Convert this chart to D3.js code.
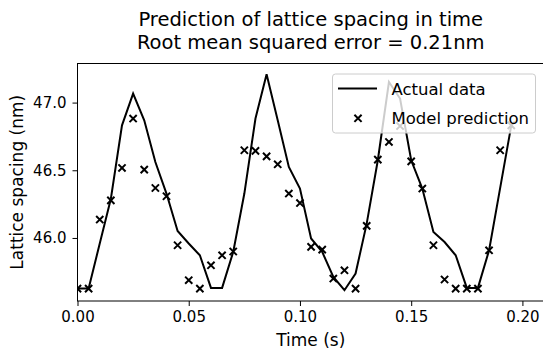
<!DOCTYPE html>
<html>
<head>
<meta charset="utf-8">
<script src="https://cdn.jsdelivr.net/npm/d3@7"></script>
<style>
  html, body { margin: 0; padding: 0; background: #fff; }
  svg text { font-family: "DejaVu Sans", sans-serif; fill: #000; }
</style>
</head>
<body>
<svg id="chart" width="543" height="351"></svg>
<script>
// Sample times (s)
const times = [
  0.000, 0.005, 0.010, 0.015, 0.020, 0.025, 0.030, 0.035, 0.040, 0.045,
  0.050, 0.055, 0.060, 0.065, 0.070, 0.075, 0.080, 0.085, 0.090, 0.095,
  0.100, 0.105, 0.110, 0.115, 0.120, 0.125, 0.130, 0.135, 0.140, 0.145,
  0.150, 0.155, 0.160, 0.165, 0.170, 0.175, 0.180, 0.185, 0.190, 0.195
];
// Measured lattice spacing (nm)
const actual = [
  45.626, 45.626, 45.959, 46.290, 46.832, 47.066, 46.869, 46.561, 46.328, 46.052,
  45.959, 45.872, 45.631, 45.631, 45.897, 46.328, 46.882, 47.209, 46.869, 46.524,
  46.365, 45.996, 45.897, 45.712, 45.614, 45.737, 46.106, 46.574, 47.152, 47.030,
  46.574, 46.365, 46.044, 45.970, 45.872, 45.631, 45.631, 45.908, 46.370, 46.832
];
// Model output (nm)
const predicted = [
  45.626, 45.626, 46.136, 46.278, 46.517, 46.882, 46.505, 46.369, 46.308, 45.946,
  45.688, 45.626, 45.798, 45.872, 45.900, 46.648, 46.643, 46.603, 46.544, 46.328,
  46.258, 45.934, 45.914, 45.700, 45.761, 45.626, 46.089, 46.579, 46.709, 46.827,
  46.566, 46.365, 45.946, 45.693, 45.626, 45.626, 45.626, 45.909, 46.648, 46.832
];
const xTicks = [0.00, 0.05, 0.10, 0.15, 0.20];
const yTicks = [46.0, 46.5, 47.0];
const titleLines = ["Prediction of lattice spacing in time", "Root mean squared error = 0.21nm"];
const legendLabels = ["Actual data", "Model prediction"];

const svg = d3.select("#chart");
const plotL = 77.5, plotR = 544, plotT = 63.5, plotB = 301;

// y range with 5% padding around the data
const allV = actual.concat(predicted);
const vMin = d3.min(allV), vMax = d3.max(allV), pad = (vMax - vMin) * 0.05;
const x = d3.scaleLinear().domain([0, 0.2097]).range([plotL, plotR]);
const y = d3.scaleLinear().domain([vMin - pad, vMax + pad]).range([plotB, plotT]);

svg.append("defs").append("clipPath").attr("id", "plotclip")
  .append("rect").attr("x", plotL).attr("y", plotT)
  .attr("width", plotR - plotL).attr("height", plotB - plotT);

const plot = svg.append("g").attr("clip-path", "url(#plotclip)");

const line = d3.line().x((d, i) => x(times[i])).y(d => y(d));
plot.append("path").datum(actual)
  .attr("d", line).attr("fill", "none")
  .attr("stroke", "#000").attr("stroke-width", 2).attr("stroke-linejoin", "miter");

const cross = "M-3.6,-3.6L3.6,3.6M-3.6,3.6L3.6,-3.6";
plot.selectAll("path.pred").data(predicted).enter().append("path")
  .attr("class", "pred")
  .attr("transform", (d, i) => `translate(${x(times[i])},${y(d)})`)
  .attr("d", cross).attr("stroke", "#000").attr("stroke-width", 2).attr("fill", "none");

// Axes
const xAxis = svg.append("g").attr("transform", `translate(0,${plotB})`)
  .call(d3.axisBottom(x).tickValues(xTicks).tickFormat(d3.format(".2f"))
        .tickSize(5).tickSizeOuter(0).tickPadding(5));
const yAxis = svg.append("g").attr("transform", `translate(${plotL},0)`)
  .call(d3.axisLeft(y).tickValues(yTicks).tickFormat(d3.format(".1f"))
        .tickSize(5).tickSizeOuter(0).tickPadding(6));
[xAxis, yAxis].forEach(g => {
  g.select(".domain").remove();
  g.selectAll(".tick line").attr("stroke", "#000").attr("stroke-width", 1);
  g.selectAll(".tick text").style("font-size", "15px").style("font-family", "DejaVu Sans");
});

// Frame
svg.append("rect").attr("x", plotL).attr("y", plotT)
  .attr("width", plotR - plotL).attr("height", plotB - plotT)
  .attr("fill", "none").attr("stroke", "#000").attr("stroke-width", 1);

// Axis labels
svg.append("text").attr("x", (plotL + plotR) / 2).attr("y", 346)
  .attr("text-anchor", "middle").style("font-size", "17px").text("Time (s)");
svg.append("text").attr("transform", `translate(23,${(plotT + plotB) / 2}) rotate(-90)`)
  .attr("text-anchor", "middle").style("font-size", "17px").text("Lattice spacing (nm)");

// Title
svg.selectAll("text.title").data(titleLines).enter().append("text")
  .attr("class", "title")
  .attr("x", (plotL + plotR) / 2).attr("y", (d, i) => 26 + i * 23.3)
  .attr("text-anchor", "middle").style("font-size", "19.5px").text(d => d);

// Legend
const lg = svg.append("g");
lg.append("rect").attr("x", 332.5).attr("y", 74).attr("width", 203).attr("height", 59)
  .attr("rx", 3).attr("fill", "#fff").attr("fill-opacity", 0.8)
  .attr("stroke", "#ccc").attr("stroke-width", 1);
lg.append("line").attr("x1", 338).attr("x2", 377).attr("y1", 88.5).attr("y2", 88.5)
  .attr("stroke", "#000").attr("stroke-width", 2);
lg.append("path").attr("transform", "translate(358,118.3)").attr("d", cross)
  .attr("stroke", "#000").attr("stroke-width", 2);
lg.selectAll("text").data(legendLabels).enter().append("text")
  .attr("x", 391.5).attr("y", (d, i) => 94.8 + i * 29)
  .style("font-size", "16.5px").text(d => d);
</script>
</body>
</html>
